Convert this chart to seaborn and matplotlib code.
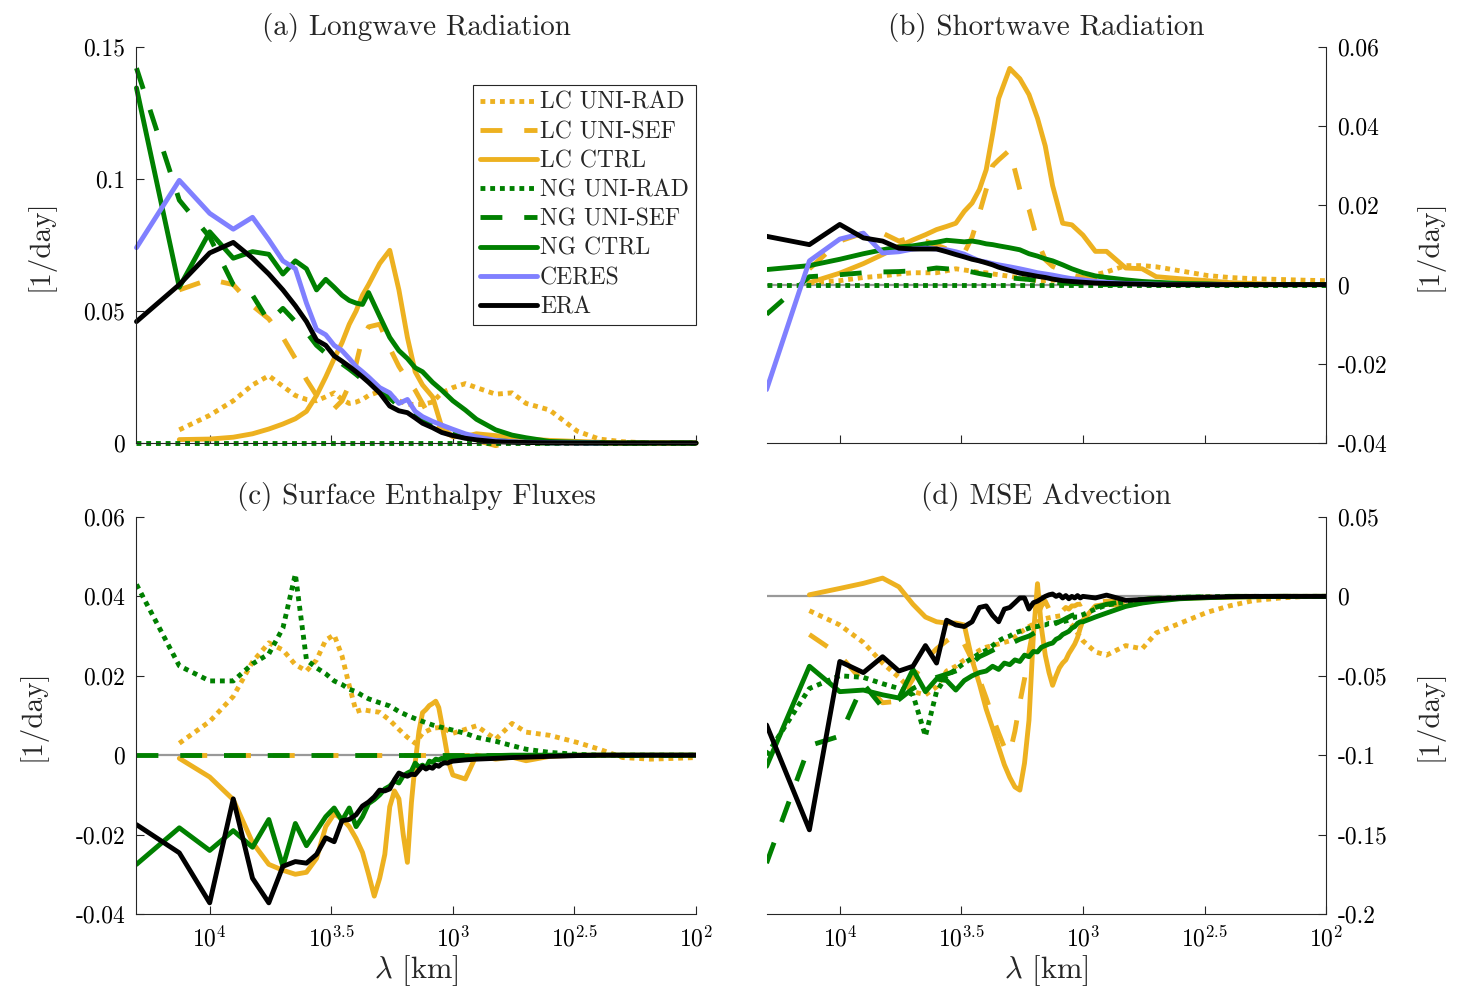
import numpy as np
import seaborn as sns
import matplotlib.pyplot as plt
from matplotlib.ticker import NullLocator

nan = np.nan

# wavelengths (km) the spectra are sampled at
LAMBDA_COARSE = [20000, 13333, 10000, 8000, 6667, 5714, 5000, 4444, 4000, 3636,
                 3333, 3077, 2857, 2667, 2500, 2353, 2222, 2000, 1818, 1667,
                 1538, 1429, 1333, 1212, 1111, 1000, 889, 800, 667, 571,
                 500, 400, 308, 250, 200, 154, 121, 100]
LAMBDA_FINE = [20000, 13333, 10000, 8000, 6667, 5714, 5000, 4444, 4000, 3636,
               3333, 3077, 2857, 2667, 2500, 2353, 2222, 2105, 2000, 1905,
               1818, 1739, 1667, 1600, 1538, 1481, 1429, 1379, 1333, 1290,
               1250, 1212, 1176, 1143, 1111, 1081, 1053, 1026, 1000,
               889, 800, 667, 571, 500, 400, 308, 250, 200, 154, 121, 100]

ZERO = [0, 0, 0, 0, 0, 0, 0, 0, 0, 0, 0, 0, 0, 0, 0, 0, 0, 0, 0, 0,
        0, 0, 0, 0, 0, 0, 0, 0, 0, 0, 0, 0, 0, 0, 0, 0, 0, 0]
ZERO_LC = [nan, 0, 0, 0, 0, 0, 0, 0, 0, 0, 0, 0, 0, 0, 0, 0, 0, 0, 0, 0,
           0, 0, 0, 0, 0, 0, 0, 0, 0, 0, 0, 0, 0, 0, 0, 0, 0, 0]

# (a) longwave
A_LC_UNIRAD = [nan, 0.005, 0.0105, 0.016, 0.022, 0.0255, 0.0215, 0.018, 0.0165, 0.016,
               0.0175, 0.019, 0.0165, 0.015, 0.0155, 0.0165, 0.018, 0.0195, 0.018, 0.016,
               0.0147, 0.0146, 0.0146, 0.0155, 0.019, 0.021, 0.0225, 0.021, 0.0185, 0.019,
               0.015, 0.0125, 0.0045, 0.0015, 0.0005, 0, 0, 0]
A_LC_UNISEF = [nan, 0.058, 0.062, 0.060, 0.052, 0.047, 0.040, 0.032, 0.024, 0.018,
               0.015, 0.013, 0.016, 0.022, 0.030, 0.040, 0.044, 0.045, 0.036, 0.029,
               0.024, 0.020, 0.015, 0.008, 0.0045, 0.0025, 0.0015, 0.001, -0.001, 0.0005,
               0.0003, 0, 0, 0, 0, 0, 0, 0]
A_LC_CTRL = [nan, 0.0013, 0.0015, 0.0022, 0.0035, 0.0053, 0.0072, 0.0092, 0.012, 0.018,
             0.025, 0.032, 0.038, 0.045, 0.050, 0.056, 0.060, 0.068, 0.073, 0.058,
             0.040, 0.027, 0.022, 0.0175, 0.0060, 0.0025, 0.0025, 0.0035, 0.0028, 0.0022,
             0.0015, 0.001, 0.0006, 0.0003, 0, 0, 0, 0]
A_NG_UNISEF = [0.142, 0.092, 0.078, 0.060, 0.056, 0.046, 0.051, 0.046, 0.042, 0.037,
               0.034, 0.032, 0.030, 0.028, 0.026, 0.024, 0.023, 0.020, 0.017, 0.014,
               0.012, 0.010, 0.009, 0.007, 0.0055, 0.004, 0.003, 0.002, 0.001, 0.0005,
               0, 0, 0, 0, 0, 0, 0, 0]
A_NG_CTRL = [0.1345, 0.059, 0.080, 0.070, 0.0725, 0.0715, 0.064, 0.069, 0.066, 0.058,
             0.062, 0.059, 0.056, 0.054, 0.053, 0.0525, 0.057, 0.048, 0.040, 0.035,
             0.032, 0.0285, 0.027, 0.023, 0.020, 0.016, 0.0125, 0.009, 0.005, 0.003,
             0.002, 0.0006, 0.0003, 0.0001, 0, 0, 0, 0]
A_CERES = [0.074, 0.0995, 0.087, 0.081, 0.0855, 0.077, 0.069, 0.066, 0.053, 0.043,
           0.041, 0.037, 0.035, 0.032, 0.029, 0.027, 0.025, 0.021, 0.019, 0.015,
           0.0165, 0.012, 0.010, 0.0082, 0.0068, 0.0052, 0.0035, 0.0024, 0.001, 0.0005,
           0.0003, 0.0001, 0, 0, nan, nan, nan, nan]
A_ERA = [0.046, 0.060, 0.072, 0.076, 0.070, 0.064, 0.058, 0.052, 0.046, 0.039,
         0.037, 0.033, 0.031, 0.029, 0.027, 0.025, 0.023, 0.019, 0.014, 0.0122,
         0.0115, 0.0095, 0.0075, 0.0058, 0.0040, 0.0028, 0.0018, 0.0012, 0.0005, 0.0003,
         0.0002, 0.0001, 0, 0, 0, 0, 0, 0]

# (b) shortwave
B_LC_UNIRAD = [nan, 0.0005, 0.001, 0.0018, 0.0022, 0.0027, 0.003, 0.003, 0.003, 0.0035,
               0.004, 0.0037, 0.0034, 0.0031, 0.003, 0.0027, 0.0025, 0.0021, 0.0017, 0.0013,
               0.001, 0.001, 0.0011, 0.0012, 0.0013, 0.0016, 0.0025, 0.0032, 0.0048, 0.0048,
               0.0045, 0.0035, 0.0023, 0.0018, 0.0015, 0.0013, 0.0011, 0.001]
B_LC_UNISEF = [nan, 0.004, 0.011, 0.013, 0.013, 0.011, 0.012, 0.011, 0.010, 0.009,
               0.008, 0.008, 0.012, 0.018, 0.024, 0.030, 0.0315, 0.034, 0.024, 0.019,
               0.011, 0.0063, 0.0046, 0.0035, 0.0025, 0.0018, 0.0012, 0.0008, 0.0005, 0.0003,
               0, 0, 0, 0, 0, 0, 0, 0]
B_LC_CTRL = [nan, 0.0005, 0.0029, 0.0053, 0.0076, 0.0097, 0.0113, 0.0126, 0.0139, 0.0147,
             0.0155, 0.0185, 0.0206, 0.024, 0.029, 0.038, 0.047, 0.0546, 0.052, 0.048,
             0.042, 0.035, 0.025, 0.0155, 0.0151, 0.0125, 0.0084, 0.0084, 0.0042, 0.004,
             0.002, 0.0015, 0.001, 0.0005, 0.0003, 0, 0, 0]
B_NG_UNISEF = [-0.0075, 0.002, 0.0025, 0.003, 0.0032, 0.0033, 0.0035, 0.0038, 0.0042, 0.004,
               0.0038, 0.0035, 0.0032, 0.0028, 0.0025, 0.0022, 0.002, 0.0017, 0.0015, 0.0013,
               0.001, 0.0008, 0.0006, 0.0004, 0.0003, 0.0002, 0, 0, 0, 0,
               0, 0, 0, 0, 0, 0, 0, 0]
B_NG_CTRL = [0.0038, 0.0048, 0.0064, 0.0078, 0.0088, 0.0095, 0.0098, 0.0103, 0.0107, 0.0112,
             0.011, 0.0108, 0.011, 0.0107, 0.0103, 0.0101, 0.0098, 0.0093, 0.0088, 0.0078,
             0.0072, 0.0065, 0.006, 0.005, 0.004, 0.003, 0.0022, 0.0018, 0.0012, 0.0008,
             0.0006, 0.0003, 0.0002, 0, 0, 0, 0, 0]
B_CERES = [-0.0265, 0.006, 0.0115, 0.013, 0.008, 0.0083, 0.009, 0.0092, 0.009, 0.0088,
           0.0083, 0.0077, 0.0068, 0.006, 0.0057, 0.0053, 0.005, 0.0045, 0.004, 0.0035,
           0.003, 0.0027, 0.0024, 0.0019, 0.0015, 0.0012, 0.0008, 0.0006, 0.0003, 0.0002,
           0.0001, 0, 0, 0, nan, nan, nan, nan]
B_ERA = [0.0122, 0.0101, 0.0152, 0.0118, 0.011, 0.0092, 0.009, 0.009, 0.009, 0.0083,
         0.0076, 0.007, 0.0064, 0.006, 0.0055, 0.005, 0.0044, 0.0036, 0.0029, 0.0025,
         0.0021, 0.0018, 0.0014, 0.001, 0.0008, 0.0006, 0.0004, 0.0003, 0.0002, 0.0001,
         0, 0, 0, 0, 0, 0, 0, 0]

# (c) surface enthalpy fluxes
C_LC_UNIRAD = [nan, 0.003, 0.0085, 0.0148, 0.0235, 0.0283, 0.0265, 0.0228, 0.0212, 0.024,
               0.029, 0.0303, 0.025, 0.0175, 0.011, 0.0115, 0.0112, 0.0108, 0.0088, 0.0065,
               0.0045, 0.003, 0.0055, 0.0068, 0.007, 0.0055, 0.0065, 0.0074, 0.004, 0.008,
               0.0058, 0.005, 0.0032, 0.0015, -0.0006, -0.001, -0.0008, -0.0006]
C_LC_CTRL = [nan, -0.0008, -0.0055, -0.0112, -0.022, -0.0275, -0.029, -0.030, -0.0295, -0.026,
             -0.018, -0.0148, -0.016, -0.018, -0.021, -0.0245, -0.030, -0.0355, -0.031, -0.025,
             -0.013, -0.009, -0.011, -0.020, -0.027, -0.012, -0.002, 0.006, 0.0107, 0.0115,
             0.0125, 0.013, 0.0136, 0.012, 0.008, 0.004, 0.0, -0.003, -0.005,
             -0.006, 0.0, -0.001, -0.0005, -0.0014, -0.0003, 0, 0, 0, 0, 0, 0]
C_NG_UNIRAD = [0.043, 0.0225, 0.0187, 0.0187, 0.023, 0.0255, 0.032, 0.0456, 0.024, 0.022,
               0.0205, 0.0187, 0.0178, 0.0166, 0.016, 0.015, 0.0142, 0.0132, 0.0124, 0.011,
               0.0100, 0.0092, 0.0085, 0.0076, 0.0070, 0.0063, 0.0055, 0.0045, 0.0035, 0.0024,
               0.0015, 0.0007, 0.0002, 0, 0, 0, 0, 0]
C_NG_CTRL = [-0.0275, -0.0183, -0.024, -0.019, -0.0232, -0.0162, -0.028, -0.0172, -0.0228, -0.019,
             -0.0155, -0.0133, -0.0165, -0.0133, -0.018, -0.0155, -0.0122, -0.0112, -0.0100, -0.0085,
             -0.0078, -0.0065, -0.0070, -0.0052, -0.0045, -0.0040, -0.0020, -0.0030, -0.0025, -0.0032,
             -0.0015, -0.0018, -0.0010, -0.0012, -0.0008, -0.0010, -0.0006, -0.0007, -0.0005,
             -0.0003, -0.0002, -0.0001, 0, 0, 0, 0, 0, 0, 0, 0, 0]
C_ERA = [-0.0175, -0.0246, -0.0372, -0.011, -0.031, -0.0372, -0.028, -0.0268, -0.0272, -0.025,
         -0.0208, -0.0218, -0.0165, -0.0162, -0.015, -0.0128, -0.0118, -0.0105, -0.0088, -0.0090,
         -0.0085, -0.0062, -0.0045, -0.0050, -0.0053, -0.0048, -0.0049, -0.0038, -0.0028, -0.0035,
         -0.0030, -0.0033, -0.0025, -0.0028, -0.0022, -0.0019, -0.0020, -0.0017, -0.0015,
         -0.0012, -0.0010, -0.0008, -0.0006, -0.0005, -0.0003, -0.0001, 0, 0, 0, 0, 0]

# (d) MSE advection
D_LC_UNIRAD = [nan, -0.009, -0.018, -0.029, -0.042, -0.051, -0.060, -0.062, -0.057, -0.047,
               -0.044, -0.040, -0.037, -0.034, -0.032, -0.031, -0.030, -0.028, -0.023, -0.019,
               -0.016, -0.014, -0.013, -0.012, -0.018, -0.028, -0.035, -0.037, -0.031, -0.033,
               -0.023, -0.017, -0.010, -0.006, -0.0027, -0.001, 0, 0]
D_LC_UNISEF = [nan, -0.024, -0.037, -0.054, -0.067, -0.066, -0.052, -0.040, -0.033, -0.028,
               -0.024, -0.030, -0.040, -0.052, -0.064, -0.076, -0.086, -0.095, -0.099, -0.085,
               -0.067, -0.052, -0.035, -0.020, -0.012, -0.006, -0.003, -0.008, -0.012, -0.010,
               -0.008, -0.009, -0.007, -0.008, -0.006, -0.006, -0.005, -0.005, -0.004,
               -0.004, -0.003, -0.003, -0.002, -0.0015, -0.001, -0.0005, 0, 0, 0, 0, 0]
D_LC_CTRL = [nan, 0.001, 0.005, 0.0082, 0.0115, 0.006, -0.005, -0.013, -0.016, -0.0168,
             -0.0168, -0.018, -0.040, -0.055, -0.071, -0.083, -0.095, -0.106, -0.114, -0.120,
             -0.122, -0.105, -0.078, -0.025, 0.008, -0.020, -0.037, -0.048, -0.056, -0.050,
             -0.045, -0.042, -0.040, -0.036, -0.033, -0.030, -0.026, -0.020, -0.015,
             -0.006, -0.005, -0.006, -0.004, -0.002, -0.0012, -0.0008, -0.0005, -0.0003, 0, 0, 0]
D_NG_UNIRAD = [-0.100, -0.058, -0.050, -0.051, -0.055, -0.058, -0.062, -0.088, -0.060, -0.050,
               -0.046, -0.042, -0.039, -0.036, -0.034, -0.031, -0.028, -0.026, -0.025, -0.023,
               -0.022, -0.021, -0.020, -0.019, -0.019, -0.018, -0.018, -0.017, -0.017, -0.0165,
               -0.016, -0.016, -0.0155, -0.015, -0.014, -0.013, -0.013, -0.012, -0.0115,
               -0.008, -0.0055, -0.0035, -0.0022, -0.0013, -0.0006, -0.0003, 0, 0, 0, 0, 0]
D_NG_UNISEF = [-0.168, -0.094, -0.088, -0.055, -0.070, -0.065, -0.058, -0.054, -0.051, -0.049,
               -0.047, -0.045, -0.042, -0.038, -0.036, -0.034, -0.032, -0.030, -0.027, -0.025,
               -0.022, -0.020, -0.018, -0.015, -0.012, -0.010, -0.007, -0.005, -0.003, -0.002,
               -0.0012, -0.0006, -0.0003, 0, 0, 0, 0, 0]
D_NG_CTRL = [-0.107, -0.044, -0.060, -0.059, -0.062, -0.064, -0.046, -0.060, -0.052, -0.053,
             -0.059, -0.053, -0.050, -0.048, -0.047, -0.044, -0.046, -0.042, -0.043, -0.040,
             -0.041, -0.037, -0.038, -0.0347, -0.035, -0.032, -0.031, -0.030, -0.0294, -0.027,
             -0.026, -0.024, -0.023, -0.022, -0.020, -0.019, -0.017, -0.016, -0.016,
             -0.013, -0.0105, -0.0063, -0.0042, -0.003, -0.0015, -0.0008, -0.0004, -0.0002, 0, 0, 0]
D_ERA = [-0.081, -0.147, -0.041, -0.048, -0.038, -0.047, -0.044, -0.031, -0.042, -0.015,
         -0.018, -0.019, -0.016, -0.007, -0.006, -0.012, -0.016, -0.008, -0.007, -0.004,
         -0.001, -0.001, -0.008, -0.004, -0.003, -0.0015, 0.0, 0.001, 0.0015, 0.0,
         0.001, -0.001, 0.0005, -0.0015, 0.0, -0.001, 0.0005, -0.001, 0.0,
         -0.001, 0.0008, -0.0025, -0.002, -0.0015, -0.001, -0.0005, -0.0002, 0, 0, 0, 0]

NAMES = ["LC UNI-RAD", "LC UNI-SEF", "LC CTRL", "NG UNI-RAD", "NG UNI-SEF",
         "NG CTRL", "CERES", "ERA"]

sns.set_theme(style="ticks")
plt.rcParams["font.family"] = ["cmr10", "DejaVu Serif"]
plt.rcParams["mathtext.fontset"] = "cm"
plt.rcParams["axes.unicode_minus"] = False
plt.rcParams["axes.formatter.use_mathtext"] = True

GOLD = "#EDB120"
GREEN = "#008000"
BLUE = "#8080FF"
DOT = (0, (1, 1))
DASH = (0, (4.5, 4.5))
LW = 3.5
COLORS = [GOLD, GOLD, GOLD, GREEN, GREEN, GREEN, BLUE, "black"]
STYLES = [DOT, DASH, "-", DOT, DASH, "-", "-", "-"]
AXCOL = "#262626"

C = LAMBDA_COARSE
F = LAMBDA_FINE
panels = [
    dict(title="(a) Longwave Radiation", pos=[0.0931, 0.5525, 0.3817, 0.400],
         side="left", ylim=(0, 0.15), yticks=[0, 0.05, 0.1, 0.15],
         ylabels=["0", "0.05", "0.1", "0.15"], bottom=False,
         series=[(C, A_LC_UNIRAD), (C, A_LC_UNISEF), (C, A_LC_CTRL), (C, ZERO),
                 (C, A_NG_UNISEF), (C, A_NG_CTRL), (C, A_CERES), (C, A_ERA)]),
    dict(title="(b) Shortwave Radiation", pos=[0.5229, 0.5525, 0.3817, 0.400],
         side="right", ylim=(-0.04, 0.06), yticks=[-0.04, -0.02, 0, 0.02, 0.04, 0.06],
         ylabels=["-0.04", "-0.02", "0", "0.02", "0.04", "0.06"], bottom=False,
         series=[(C, B_LC_UNIRAD), (C, B_LC_UNISEF), (C, B_LC_CTRL), (C, ZERO),
                 (C, B_NG_UNISEF), (C, B_NG_CTRL), (C, B_CERES), (C, B_ERA)]),
    dict(title="(c) Surface Enthalpy Fluxes", pos=[0.0931, 0.0768, 0.3817, 0.401],
         side="left", ylim=(-0.04, 0.06), yticks=[-0.04, -0.02, 0, 0.02, 0.04, 0.06],
         ylabels=["-0.04", "-0.02", "0", "0.02", "0.04", "0.06"], bottom=True,
         series=[(C, C_LC_UNIRAD), (C, ZERO_LC), (F, C_LC_CTRL), (C, C_NG_UNIRAD),
                 (C, ZERO), (F, C_NG_CTRL), None, (F, C_ERA)]),
    dict(title="(d) MSE Advection", pos=[0.5229, 0.0768, 0.3817, 0.401],
         side="right", ylim=(-0.2, 0.05), yticks=[-0.2, -0.15, -0.1, -0.05, 0, 0.05],
         ylabels=["-0.2", "-0.15", "-0.1", "-0.05", "0", "0.05"], bottom=True,
         series=[(C, D_LC_UNIRAD), (F, D_LC_UNISEF), (F, D_LC_CTRL), (F, D_NG_UNIRAD),
                 (C, D_NG_UNISEF), (F, D_NG_CTRL), None, (F, D_ERA)]),
]

fig = plt.figure(figsize=(14.66, 9.9), dpi=100)

for pi, p in enumerate(panels):
    ax = fig.add_axes(p["pos"])
    if pi > 0:
        ax.axhline(0, color="#999999", lw=1.6, zorder=1)
    handles = []
    for i, s in enumerate(p["series"]):
        if s is None:
            continue
        ls = STYLES[i]
        if pi == 2 and i == 1:
            ls = (7.8, (4.5, 4.5))
        sns.lineplot(x=s[0], y=s[1], ax=ax, color=COLORS[i], linestyle=ls, lw=LW,
                     sort=False, estimator=None, errorbar=None, label=NAMES[i],
                     legend=False, clip_on=(pi != 0))
        handles.append(ax.lines[-1])
    ax.set_xscale("log")
    ax.set_xlim(20000, 100)
    ax.set_xticks([1e4, 10 ** 3.5, 1e3, 10 ** 2.5, 1e2])
    ax.xaxis.set_minor_locator(NullLocator())
    if p["bottom"]:
        ax.set_xticklabels([r"$10^{4}$", r"$10^{3.5}$", r"$10^{3}$", r"$10^{2.5}$", r"$10^{2}$"])
        ax.set_xlabel(r"$\lambda$ [km]", fontsize=22, labelpad=1)
    else:
        ax.set_xticklabels([])
        ax.set_xlabel("")
    ax.set_ylim(*p["ylim"])
    ax.set_yticks(p["yticks"])
    ax.set_yticklabels(p["ylabels"])
    ax.spines["top"].set_visible(False)
    if p["side"] == "left":
        ax.spines["right"].set_visible(False)
        ax.set_ylabel("[1/day]", fontsize=21, labelpad=21)
    else:
        ax.spines["left"].set_visible(False)
        ax.yaxis.tick_right()
        ax.yaxis.set_label_position("right")
        ax.set_ylabel("[1/day]", fontsize=21, labelpad=20)
    for sp in ax.spines.values():
        sp.set_color(AXCOL)
        sp.set_linewidth(0.8)
    ax.tick_params(direction="in", length=6, width=0.8, colors=AXCOL,
                   labelsize=17, labelcolor="black")
    ax.tick_params(axis="x", pad=9)
    ax.tick_params(axis="y", pad=8)
    ax.set_title(p["title"], fontsize=21, pad=9)
    ax.grid(False)
    if pi == 0:
        leg = ax.legend(handles=handles, loc="upper right", bbox_to_anchor=(1.0, 0.905),
                        fontsize=17, handlelength=2.4, handletextpad=0.15,
                        labelspacing=0.3, borderpad=0.3, fancybox=False,
                        framealpha=1, edgecolor=AXCOL, borderaxespad=0)
        leg.get_frame().set_linewidth(0.8)

fig.savefig("out.png", dpi=100, facecolor="white")
